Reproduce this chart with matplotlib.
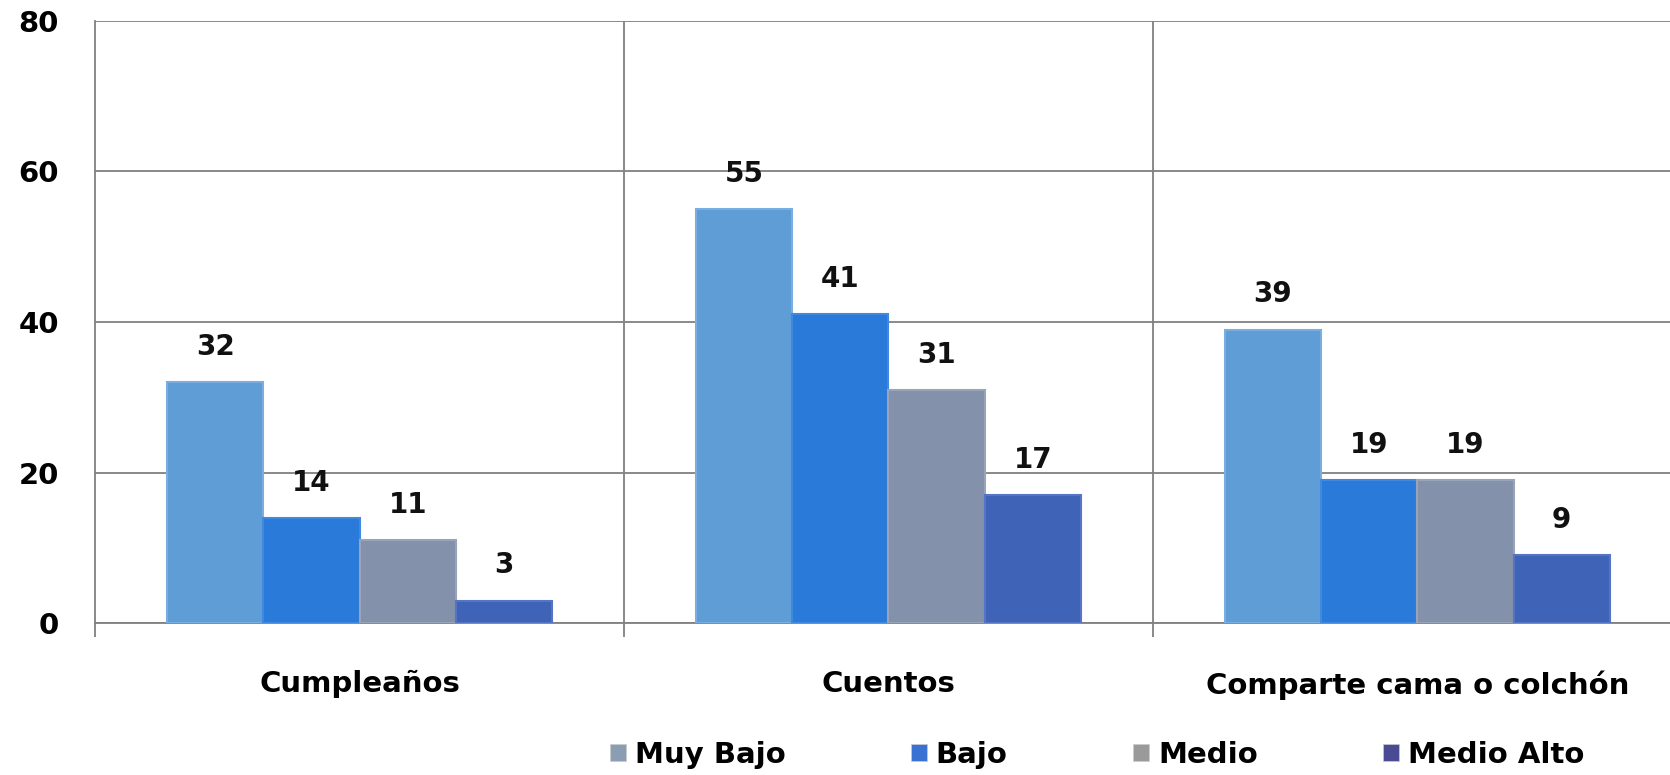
import numpy as np
import matplotlib.pyplot as plt
from matplotlib.patches import Patch

# datos por actividad y nivel socioeconómico
actividades = ['Cumpleaños', 'Cuentos', 'Comparte cama o colchón']
niveles = ['Muy Bajo', 'Bajo', 'Medio', 'Medio Alto']
muy_bajo = [32, 55, 39]
bajo = [14, 41, 19]
medio = [11, 31, 19]
medio_alto = [3, 17, 9]

colores = ['#5e9dd6', '#2a7bd9', '#8391ab', '#3f63b7']
bordes = ['#7aaee0', '#3f8ae0', '#9aa4b8', '#5574c4']
colores_leyenda = ['#8b9db3', '#3a72d4', '#9a9a9a', '#4a4b92']

plt.rcParams['font.family'] = ['DejaVu Sans']

fig = plt.figure(figsize=(16.7, 7.75), dpi=100)
ax = fig.add_axes([0.057, 0.196, 0.95, 0.777])

series = [muy_bajo, bajo, medio, medio_alto]
x = np.arange(len(actividades))
ancho = 0.182
for i, vals in enumerate(series):
    pos = x + (i - 1.5) * ancho
    barras = ax.bar(pos, vals, ancho, color=colores[i], edgecolor=bordes[i],
                    linewidth=1.5, zorder=3)
    for b, v in zip(barras, vals):
        ax.text(b.get_x() + b.get_width() / 2, v + 2.8, str(v), ha='center',
                va='bottom', fontsize=20, fontweight='bold', color='#111111')

ax.set_xlim(-0.5, 2.5)
ax.set_ylim(0, 80)
ax.set_yticks([0, 20, 40, 60, 80])
ax.yaxis.grid(True, color='#808080', linewidth=1.3, zorder=0)
for d in [0.5, 1.5]:
    ax.axvline(d, color='#808080', linewidth=1.3, zorder=0)

ax.set_xticks(x)
ax.set_xticklabels(actividades, fontsize=21, fontweight='bold')
ax.set_xticks([-0.5, 0.5, 1.5, 2.5], minor=True)
ax.tick_params(axis='x', which='major', length=0, pad=34)
ax.tick_params(axis='x', which='minor', length=10, width=1.3, color='#808080')
ax.tick_params(axis='y', length=0, pad=26, labelsize=21)
for lbl in ax.get_yticklabels():
    lbl.set_fontweight('bold')

for s in ['top', 'right']:
    ax.spines[s].set_visible(False)
ax.spines['left'].set_color('#808080')
ax.spines['left'].set_linewidth(1.3)
ax.spines['bottom'].set_color('#808080')
ax.spines['bottom'].set_linewidth(1.3)

handles = [Patch(facecolor=c, edgecolor='#cccccc', linewidth=0.5) for c in colores_leyenda]
fig.legend(handles, niveles, loc='center', bbox_to_anchor=(0.657, 0.026), ncol=4,
           frameon=False, prop={'size': 21, 'weight': 'bold'},
           handlelength=0.55, handleheight=0.55, handletextpad=0.3,
           columnspacing=4.3)

fig.savefig('out.png', dpi=100)
